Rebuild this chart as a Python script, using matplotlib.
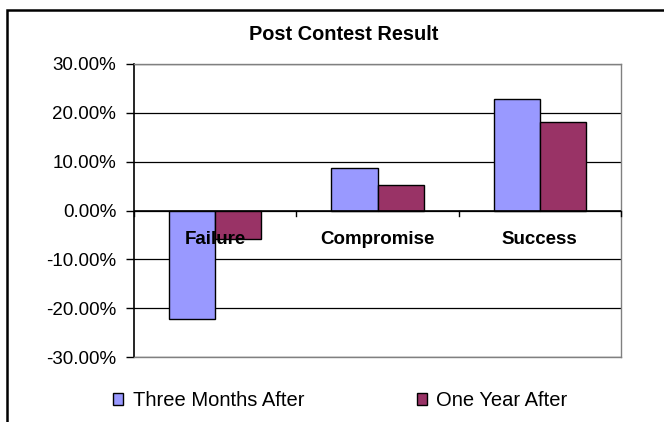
import numpy as np
import matplotlib
matplotlib.use('Agg')
import matplotlib.pyplot as plt
from matplotlib.patches import Rectangle
from matplotlib.ticker import PercentFormatter

categories = ['Failure', 'Compromise', 'Success']
three_months = [-22.3, 8.8, 22.9]
one_year = [-5.9, 5.3, 18.1]
series_names = ['Three Months After', 'One Year After']
colors = ['#9999FF', '#993366']

plt.rcParams['font.family'] = ['Liberation Sans', 'DejaVu Sans']
plt.rcParams['axes.unicode_minus'] = False

fig = plt.figure(figsize=(6.64, 4.22), dpi=100)
ax = fig.add_axes([134 / 664, 1 - 357 / 422, 487 / 664, 293 / 422])

# outer chart border, cut off on the right and bottom like the original
fig.patches.append(Rectangle((7 / 664, -0.05), 1.0, 1 - 10 / 422 + 0.05,
                             transform=fig.transFigure, fill=False,
                             edgecolor='black', linewidth=1.8))

x = np.arange(len(categories)) + 0.5
w = 0.285
ax.bar(x - w / 2, three_months, w, color=colors[0], edgecolor='black',
       linewidth=1, label=series_names[0], zorder=3)
ax.bar(x + w / 2, one_year, w, color=colors[1], edgecolor='black',
       linewidth=1, label=series_names[1], zorder=3)

ax.set_xlim(0, len(categories))
ax.set_ylim(-30, 30)
ax.set_yticks(np.arange(-30, 31, 10))
ax.yaxis.set_major_formatter(PercentFormatter(decimals=2))
ax.tick_params(axis='y', labelsize=13.5, length=5.8, width=1, direction='out', pad=7)
ax.set_xticks([])
ax.grid(axis='y', color='black', linewidth=0.9, zorder=0)

for s in ['top', 'right', 'bottom']:
    ax.spines[s].set_color('#808080')
    ax.spines[s].set_linewidth(1)
ax.spines['left'].set_linewidth(1.2)

# zero line with category separator ticks
ax.axhline(0, color='black', linewidth=1.2, zorder=4)
for b in range(len(categories) + 1):
    ax.plot([b, b], [0, -1.1], color='black', linewidth=1, zorder=4, clip_on=False)

for xi, c in zip(x, categories):
    ax.text(xi, -6, c, ha='center', va='center', fontsize=13.5,
            fontweight='bold', zorder=5)

fig.text(344 / 664, 1 - 35 / 422, 'Post Contest Result', ha='center',
         va='center', fontsize=14.4, fontweight='bold')

fig.legend(loc='center left', bbox_to_anchor=(113 / 664, 1 - 401 / 422), ncol=2,
           frameon=False, fontsize=14.5, handlelength=0.52, handleheight=0.52,
           handletextpad=0.45, columnspacing=5.6, borderpad=0, borderaxespad=0)

fig.savefig('out.png', dpi=100)
